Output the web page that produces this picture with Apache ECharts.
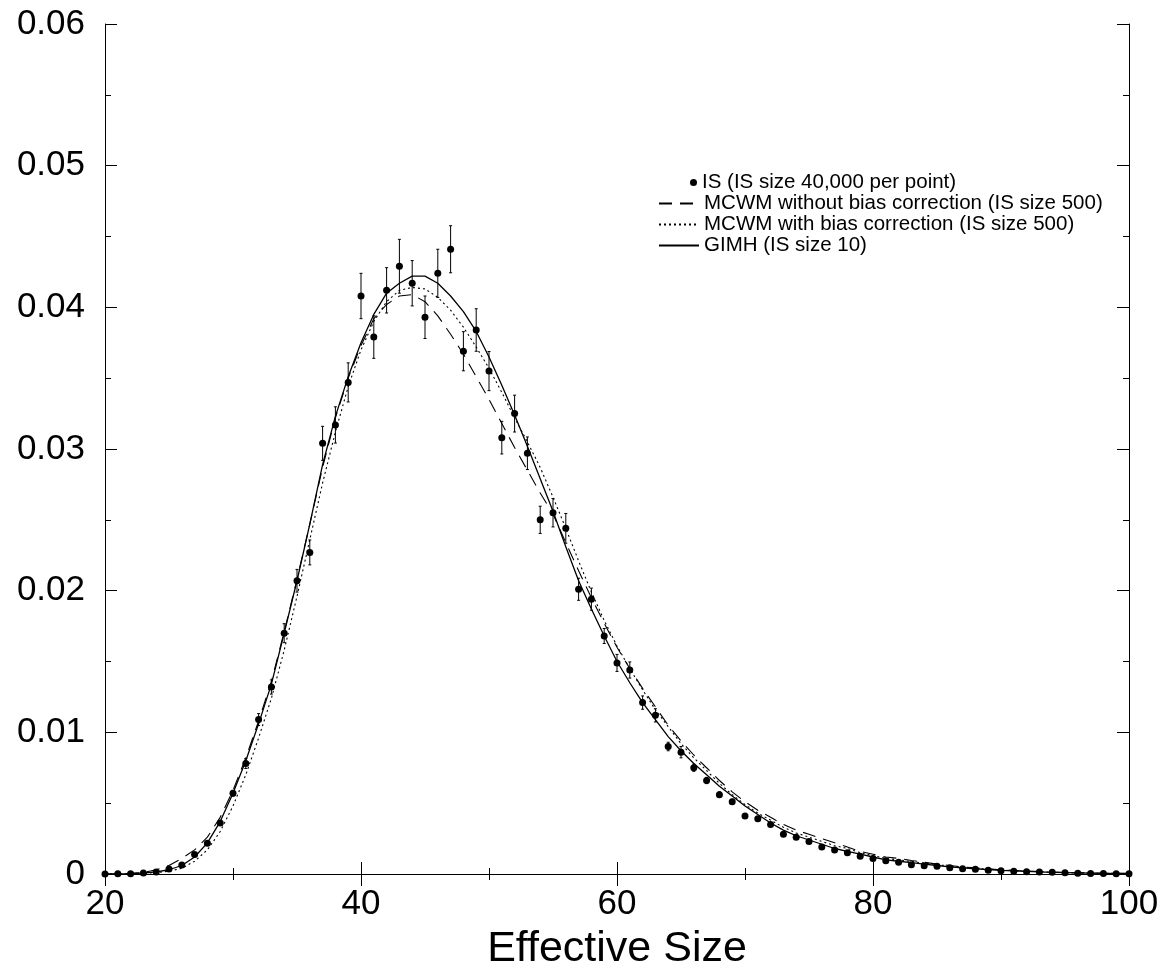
<!DOCTYPE html>
<html>
<head>
<meta charset="utf-8">
<script src="https://cdn.jsdelivr.net/npm/echarts@6/dist/echarts.min.js"></script>
<style>html,body{margin:0;padding:0;background:#fff}#c{width:1164px;height:975px}</style>
</head>
<body>
<div id="c"></div>
<script>
const effSize = [20,21,22,23,24,25,26,27,28,29,30,31,32,33,34,35,36,37,38,39,40,41,42,43,44,45,46,47,48,49,50,51,52,53,54,55,56,57,58,59,60,61,62,63,64,65,66,67,68,69,70,71,72,73,74,75,76,77,78,79,80,81,82,83,84,85,86,87,88,89,90,91,92,93,94,95,96,97,98,99,100];

const isMean = [0,0.00001,0.00002,0.00007,0.00014,0.00035,0.00064,0.00137,0.00217,0.0036,
0.0057,0.0078,0.0109,0.0132,0.0170,0.0207,0.0227,0.0304,0.0317,0.0347,
0.0408,0.0379,0.0412,0.0429,0.0417,0.0393,0.0424,0.0441,0.0369,0.0384,
0.0355,0.0308,0.0325,0.0297,0.0250,0.0255,0.0244,0.0201,0.0194,0.0168,
0.0149,0.0144,0.0121,0.0112,0.0090,0.0086,0.0075,0.0066,0.0056,0.0051,
0.0041,0.0039,0.0035,0.0028,0.0026,0.0023,0.0019,0.0017,0.0015,0.00125,
0.0011,0.00094,0.00083,0.00066,0.00059,0.00054,0.00045,0.00037,0.00033,0.00026,
0.00023,0.00019,0.00016,0.00014,0.00012,0.00008,0.00006,0.00004,0.00003,0.00002,0.00001];

const isErr = [0,0.00001,0.00002,0.00003,0.00004,0.00006,0.00008,0.0001,0.00013,0.00016,
0.0002,0.00035,0.00042,0.0005,0.00067,0.0008,0.00088,0.0012,0.00128,0.00138,
0.0016,0.0015,0.0016,0.0019,0.0016,0.0015,0.0017,0.00166,0.00138,0.0015,
0.00138,0.00115,0.0013,0.00115,0.00096,0.001,0.00105,0.00078,0.00078,0.00053,
0.0006,0.00057,0.00047,0.00047,0.0003,0.0004,0.00025,0.00022,0.0002,0.00018,
0.00015,0.00014,0.00012,0.0001,0.0001,0.00009,0.00008,0.00007,0.00007,0.00006,
0.00005,0.00004,0.00004,0.00004,0.00003,0.00003,0.00003,0.00003,0.00002,0.00002,
0.00002,0.00002,0.00002,0.00001,0.00001,0.00001,0.00001,0.00001,0.00001,0.00001,0.00001];

const mcwmNoBias = [0,0.00002,0.00005,0.0001,0.0003,0.0006,0.0011,0.0017,0.0026,0.0040,
0.0059,0.0082,0.0108,0.0136,0.0171,0.0208,0.0247,0.0287,0.0322,0.0350,
0.0373,0.0392,0.0402,0.0408,0.0409,0.0404,0.0394,0.0381,0.0367,0.0351,
0.0335,0.0318,0.0301,0.0285,0.0269,0.0254,0.0234,0.0214,0.0195,0.0177,
0.0160,0.0145,0.0131,0.0118,0.0105,0.0094,0.0084,0.0075,0.0066,0.0058,
0.0051,0.0045,0.0040,0.0035,0.0031,0.0028,0.0025,0.0022,0.0019,0.0016,
0.0014,0.0012,0.0011,0.00095,0.00083,0.0007,0.0006,0.0005,0.00043,0.00036,
0.0003,0.00025,0.00021,0.00017,0.00014,0.00011,0.00009,0.00007,0.00006,0.00005,0.00004];

const mcwmBias = [0,0.00001,0.00002,0.00005,0.0001,0.0002,0.0004,0.0009,0.0017,0.0030,
0.0048,0.0070,0.0096,0.0124,0.0158,0.0196,0.0236,0.0276,0.0312,0.0344,
0.0370,0.0390,0.0404,0.0412,0.0414,0.0413,0.0407,0.0398,0.0386,0.0372,
0.0357,0.0340,0.0322,0.0305,0.0287,0.0266,0.0244,0.0221,0.0199,0.0179,
0.0161,0.0145,0.0130,0.0116,0.0104,0.0092,0.0082,0.0073,0.0064,0.0056,
0.0049,0.0043,0.0038,0.0033,0.0029,0.0026,0.0023,0.0020,0.0018,0.0015,
0.0013,0.0011,0.0010,0.00088,0.00077,0.00066,0.00056,0.00047,0.0004,0.00034,
0.00028,0.00023,0.00019,0.00016,0.00013,0.0001,0.00008,0.00006,0.00005,0.00004,0.00003];

const gimh = [0,0.00001,0.00003,0.00007,0.00015,0.0003,0.0006,0.0012,0.0022,0.0037,
0.0057,0.0080,0.0106,0.0134,0.0170,0.0207,0.0247,0.0289,0.0323,0.0351,
0.0375,0.0395,0.0410,0.0417,0.0422,0.0422,0.0417,0.0408,0.0397,0.0383,
0.0365,0.0345,0.0324,0.0302,0.0279,0.0256,0.0231,0.0207,0.0187,0.0168,
0.0150,0.0135,0.0121,0.0109,0.0097,0.0087,0.0078,0.0070,0.0062,0.0055,
0.0048,0.0042,0.0036,0.0031,0.0027,0.0024,0.0021,0.0018,0.0016,0.0014,
0.0012,0.0010,0.0009,0.0008,0.0007,0.0006,0.0005,0.00043,0.00037,0.00031,
0.00026,0.00022,0.00018,0.00015,0.00012,0.0001,0.00008,0.00006,0.00005,0.00004,0.00003];

const names = {
  is: 'IS (IS size 40,000 per point)',
  noBias: 'MCWM without bias correction (IS size 500)',
  bias: 'MCWM with bias correction (IS size 500)',
  gimh: 'GIMH (IS size 10)'
};

const FONT = '"Liberation Sans", Arial, Helvetica, sans-serif';
const pairs = arr => effSize.map((x, i) => [x, arr[i]]);
const errData = effSize.map((x, i) => [x, isMean[i] - isErr[i], isMean[i] + isErr[i]]);

const chart = echarts.init(document.getElementById('c'), null, {renderer: 'canvas'});

const axisCommon = {
  axisLine: {show: true, lineStyle: {color: '#000', width: 1}},
  axisTick: {show: true, inside: true, length: 12, lineStyle: {color: '#000', width: 1}},
  minorTick: {show: true, splitNumber: 2, length: 6, lineStyle: {color: '#000', width: 1}},
  splitLine: {show: false},
  minorSplitLine: {show: false}
};

const legendText = {fontFamily: FONT, fontSize: 20.5, color: '#000', lineHeight: 21};

chart.setOption({
  animation: false,
  backgroundColor: '#fff',
  grid: {left: 105, right: 35, top: 24, bottom: 101, containLabel: false, outerBoundsMode: 'none'},
  legend: [
    {
      orient: 'vertical', left: 690, top: 172, padding: 0, itemWidth: 7, itemHeight: 7, itemGap: 0,
      data: [{name: names.is, icon: 'circle'}],
      itemStyle: {color: '#000', opacity: 1},
      textStyle: legendText
    },
    {
      orient: 'vertical', left: 658, top: 193, padding: 0, itemWidth: 40, itemHeight: 10, itemGap: 0,
      data: [names.noBias, names.bias, names.gimh],
      itemStyle: {color: 'rgba(0,0,0,0)', borderColor: 'rgba(0,0,0,0)', borderWidth: 0},
      textStyle: legendText
    }
  ],
  xAxis: [
    Object.assign({
      type: 'value', min: 20, max: 100, interval: 20, position: 'bottom',
      name: 'Effective Size', nameLocation: 'middle', nameGap: 54,
      nameTextStyle: {fontFamily: FONT, fontSize: 43, color: '#000'},
      axisLabel: {fontFamily: FONT, fontSize: 35, color: '#000', margin: 13}
    }, axisCommon),
    Object.assign({
      type: 'value', min: 20, max: 100, interval: 20, position: 'top',
      axisLabel: {show: false}
    }, axisCommon)
  ],
  yAxis: [
    Object.assign({
      type: 'value', min: 0, max: 0.06, interval: 0.01, position: 'left',
      axisLabel: {fontFamily: FONT, fontSize: 35, color: '#000', margin: 20}
    }, axisCommon),
    Object.assign({
      type: 'value', min: 0, max: 0.06, interval: 0.01, position: 'right',
      axisLabel: {show: false}
    }, axisCommon)
  ],
  series: [
    {
      name: names.noBias, type: 'line', data: pairs(mcwmNoBias), symbol: 'none', showSymbol: false,
      lineStyle: {color: '#000', width: 1.1, type: [13, 8]}, itemStyle: {color: '#000'}, z: 2
    },
    {
      name: names.bias, type: 'line', data: pairs(mcwmBias), symbol: 'none', showSymbol: false,
      lineStyle: {color: '#000', width: 1.1, type: [2, 3]}, itemStyle: {color: '#000'}, z: 2
    },
    {
      name: names.gimh, type: 'line', data: pairs(gimh), symbol: 'none', showSymbol: false,
      lineStyle: {color: '#000', width: 1.3, type: 'solid'}, itemStyle: {color: '#000'}, z: 2
    },
    {
      name: 'IS error', type: 'custom', data: errData, z: 3,
      renderItem: function (params, api) {
        const x = api.value(0), lo = api.value(1), hi = api.value(2);
        const p1 = api.coord([x, lo]);
        const p2 = api.coord([x, hi]);
        const st = {stroke: '#000', lineWidth: 1};
        return {
          type: 'group',
          children: [
            {type: 'line', shape: {x1: p1[0], y1: p1[1], x2: p2[0], y2: p2[1]}, style: st},
            {type: 'line', shape: {x1: p1[0] - 1.5, y1: p1[1], x2: p1[0] + 1.5, y2: p1[1]}, style: st},
            {type: 'line', shape: {x1: p2[0] - 1.5, y1: p2[1], x2: p2[0] + 1.5, y2: p2[1]}, style: st}
          ]
        };
      }
    },
    {
      name: names.is, type: 'scatter', data: pairs(isMean), symbol: 'circle', symbolSize: 7,
      itemStyle: {color: '#000', opacity: 1}, z: 4
    }
  ]
});
</script>
</body>
</html>
